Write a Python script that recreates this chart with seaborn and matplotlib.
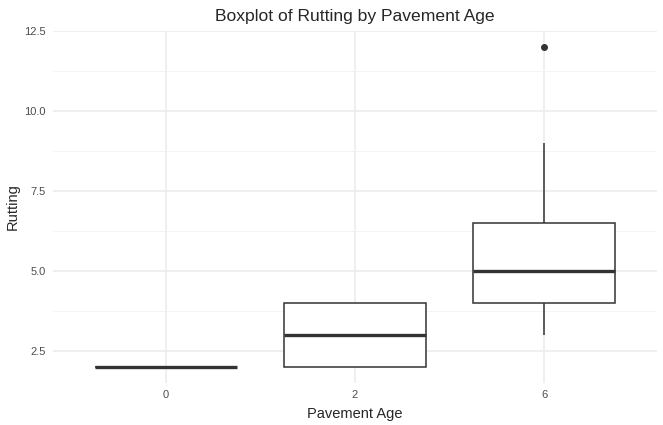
import seaborn as sns
import matplotlib.pyplot as plt
import pandas as pd

# dados
idade_0 = [2, 2, 2, 2]
idade_2 = [2, 2, 3, 4, 4]
idade_6 = [3, 4, 4, 4, 5, 5, 6, 6, 7, 9, 12]

idades = ["0", "2", "6"]
valores = [idade_0, idade_2, idade_6]

linhas = []
for idade, vals in zip(idades, valores):
    for v in vals:
        linhas.append({"Pavement Age": idade, "Rutting": v})
df = pd.DataFrame(linhas)

sns.set_style("white")
plt.rcParams['font.family'] = ['Liberation Sans', 'DejaVu Sans']

fig = plt.figure(figsize=(6.63, 4.25), dpi=100)
ax = fig.add_axes([0.0794, 0.0988, 0.9122, 0.8282])

cor = "#333333"
sns.boxplot(data=df, x="Pavement Age", y="Rutting", order=idades, ax=ax,
            width=0.75, color="white", linecolor=cor, linewidth=1.1,
            showcaps=False,
            medianprops={"linewidth": 2.4, "color": cor},
            flierprops={"marker": "o", "markersize": 4, "markerfacecolor": cor,
                        "markeredgecolor": cor},
            zorder=3)

ax.set_xlim(-0.6, 2.6)
ax.set_ylim(1.5, 12.5)
ax.set_yticks([2.5, 5.0, 7.5, 10.0, 12.5])
ax.set_yticks([3.75, 6.25, 8.75, 11.25], minor=True)
ax.grid(which="major", color="#EBEBEB", linewidth=1.1, zorder=0)
ax.grid(which="minor", axis="y", color="#F2F2F2", linewidth=0.6, zorder=0)
ax.set_axisbelow(True)
for s in ax.spines.values():
    s.set_visible(False)
ax.tick_params(length=0, labelsize=8, labelcolor="#4D4D4D", pad=5)
ax.tick_params(which="minor", length=0)

ax.set_title("Boxplot of Rutting by Pavement Age", fontsize=12.6, pad=7)
ax.set_xlabel("Pavement Age", fontsize=10.5, labelpad=5)
ax.set_ylabel("Rutting", fontsize=10.5, labelpad=3)

fig.savefig("out.png", dpi=100, facecolor="white")
